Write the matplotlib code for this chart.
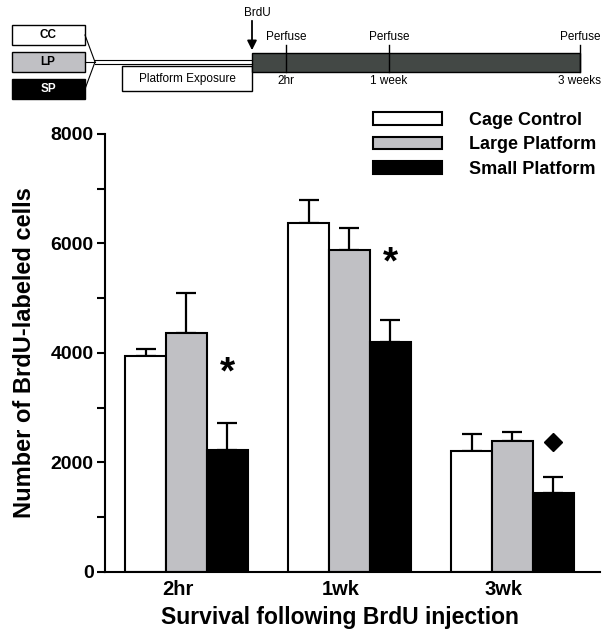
import matplotlib.pyplot as plt
import matplotlib.transforms as mtransforms
import numpy as np
from matplotlib.patches import Rectangle

plt.rcParams['font.family'] = ['Liberation Sans', 'DejaVu Sans']

# --- données ---
groups = ["2hr", "1wk", "3wk"]
series = ["Cage Control", "Large Platform", "Small Platform"]
colors = ["white", "#c0c0c4", "black"]
means = [
    [3950, 6370, 2210],   # Cage Control
    [4365, 5880, 2390],   # Large Platform
    [2230, 4200, 1440],   # Small Platform
]
sem = [
    [120, 420, 310],
    [730, 400, 165],
    [490, 400, 295],
]
# marques de significativité au-dessus des barres Small Platform
marks_y = [3620, 5640, 2370]
marks_sym = ["*", "*", "D"]

fig = plt.figure(figsize=(6.04, 6.33), dpi=100)
ax = fig.add_axes([0.1738, 0.0964, 0.8195, 0.692])

x = np.arange(len(groups))
w = 0.25
for k in range(3):
    xs = x + (k - 1) * w
    ax.bar(xs, means[k], width=w, color=colors[k], edgecolor="black",
           linewidth=1.5, label=series[k], zorder=2)
    ax.errorbar(xs, means[k], yerr=[np.zeros(3), sem[k]], fmt="none",
                ecolor="black", elinewidth=1.6, capsize=7, capthick=1.6, zorder=1)

for g in range(3):
    xm = x[g] + w
    if marks_sym[g] == "*":
        ax.text(xm, marks_y[g], "*", ha="center", va="center", fontsize=28, fontweight="bold")
    else:
        ax.plot(xm, marks_y[g], marker="D", color="black", markersize=9)

ax.set_xlim(-0.5, 2.537)
ax.set_ylim(0, 8000)
ax.set_yticks([0, 2000, 4000, 6000, 8000])
ax.set_yticks([1000, 3000, 5000, 7000], minor=True)
ax.set_xticks(x)
ax.set_xticklabels(groups)
ax.tick_params(axis="x", length=0, pad=6, labelsize=14.5)
ax.tick_params(axis="y", which="both", length=6, width=1.5, labelsize=14, pad=2)
shift = mtransforms.ScaledTranslation(-9 / 100, 0, fig.dpi_scale_trans)
for lab in ax.get_xticklabels():
    lab.set_fontweight("bold")
    lab.set_transform(lab.get_transform() + shift)
for lab in ax.get_yticklabels():
    lab.set_fontweight("bold")
ax.spines["top"].set_visible(False)
ax.spines["right"].set_visible(False)
ax.spines["left"].set_linewidth(1.5)
ax.spines["bottom"].set_linewidth(1.5)
ax.set_ylabel("Number of BrdU-labeled cells", fontsize=17, fontweight="bold")
ax.set_xlabel("Survival following BrdU injection", fontsize=16.5, fontweight="bold")
ax.yaxis.set_label_coords(-0.139, 0.5)
ax.xaxis.set_label_coords(0.475, -0.077)

leg = ax.legend(loc="upper left", bbox_to_anchor=(0.59, 0.849),
                bbox_transform=fig.transFigure, frameon=False,
                prop={"weight": "bold", "size": 13}, handlelength=3.85,
                handleheight=0.68, handletextpad=1.5, labelspacing=0.42)

# --- schéma du protocole en haut ---
d = fig.add_axes([0, 0, 1, 1], zorder=-1)
d.set_xlim(0, 604)
d.set_ylim(633, 0)
d.axis("off")

boxes = [("CC", 25, "white", "black"), ("LP", 52, "#c0c0c4", "black"), ("SP", 79, "black", "white")]
for name, y0, fc, tc in boxes:
    d.add_patch(Rectangle((12, y0), 73, 20, facecolor=fc, edgecolor="black", lw=1))
    d.text(48, y0 + 10, name, ha="center", va="center", fontsize=8.5, fontweight="bold", color=tc)
    d.plot([85, 95], [y0 + 10, 62], color="black", lw=0.8)
d.plot([95, 252], [60, 60], color="black", lw=0.8)
d.plot([95, 252], [64, 64], color="black", lw=0.8)
d.add_patch(Rectangle((122, 66), 130, 25, facecolor="white", edgecolor="black", lw=1))
d.text(187, 79, "Platform Exposure", ha="center", va="center", fontsize=8.5)
d.add_patch(Rectangle((252, 53), 328, 19, facecolor="#434845", edgecolor="black", lw=1))
d.annotate("", xy=(252, 53), xytext=(252, 18),
           arrowprops=dict(arrowstyle="-|>", color="black", lw=1.3, mutation_scale=14))
d.text(257, 13, "BrdU", ha="center", va="center", fontsize=8.5)
for xp, lab in [(286, "2hr"), (389, "1 week"), (580, "3 weeks")]:
    d.plot([xp, xp], [45, 72], color="black", lw=1)
    d.text(xp, 37, "Perfuse", ha="center", va="center", fontsize=8.5)
    d.text(xp, 81, lab, ha="center", va="center", fontsize=8.5)

fig.savefig("out.png", dpi=100)
